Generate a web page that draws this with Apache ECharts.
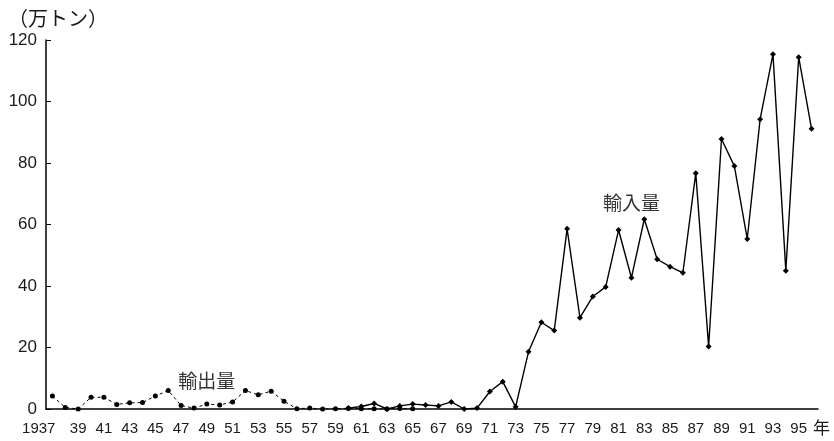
<html>
<head>
    <meta charset="utf-8">
    <script src="https://cdn.jsdelivr.net/npm/echarts@6/dist/echarts.min.js"></script>
</head>
<body style="margin:0">
<div id="main" style="width:834px;height:441px"></div>
<script>
    // years 1937 .. 1996
    var years = [];
    for (var y = 1937; y <= 1996; y++) {
        years.push(String(y));
    }

    // 輸出量 1937-1965 (万トン)
    var exportVals = [
        4.2, 0.5, 0.0, 3.8, 3.8, 1.5, 2.0, 2.1, 4.2, 6.0,
        1.1, 0.3, 1.6, 1.3, 2.3, 6.0, 4.6, 5.8, 2.5, 0.1,
        0.3, 0.0, 0.1, 0.2, 0.1, 0.1, 0.0, 0.2, 0.1
    ];

    // 輸入量 1960-1996 (万トン)
    var importVals = [
        0.3, 0.8, 1.8, 0.0, 1.0, 1.6, 1.3, 1.0, 2.3, 0.0,
        0.3, 5.7, 8.9, 0.7, 18.6, 28.2, 25.5, 58.6, 29.7, 36.6,
        39.7, 58.2, 42.7, 61.7, 48.7, 46.3, 44.3, 76.7, 20.3, 87.8,
        79.0, 55.3, 94.2, 115.4, 45.0, 114.4, 91.1
    ];

    function fill(startYear, vals) {
        return years.map(function (yr) {
            var i = Number(yr) - startYear;
            return (i >= 0 && i < vals.length) ? vals[i] : null;
        });
    }

    var textColor = '#1a1a1a';
    var numFont = '"Liberation Sans", Arial, sans-serif';
    var cjkFont = '"Noto Sans CJK JP", sans-serif';

    var chart = echarts.init(document.getElementById('main'));
    var option = {
        animation: false,
        title: {
            text: '（万トン）',
            left: 3,
            top: 3,
            textStyle: {
                fontFamily: cjkFont,
                fontSize: 20,
                fontWeight: 'normal',
                color: textColor
            }
        },
        grid: {
            left: 46,
            right: 16,
            top: 40,
            bottom: 32
        },
        xAxis: [
            {
                type: 'category',
                data: years,
                position: 'bottom',
                boundaryGap: true,
                name: '年',
                nameLocation: 'end',
                nameGap: -6,
                nameTextStyle: {
                    fontFamily: cjkFont,
                    fontSize: 17,
                    color: textColor,
                    align: 'left',
                    verticalAlign: 'top',
                    padding: [10, 0, 0, 0]
                },
                axisLine: { lineStyle: { color: '#000', width: 1.5 } },
                axisTick: {
                    inside: true,
                    interval: 0,
                    length: 4,
                    lineStyle: { color: '#000' }
                },
                axisLabel: {
                    interval: 0,
                    margin: 12,
                    hideOverlap: false,
                    fontFamily: numFont,
                    fontSize: 15,
                    color: textColor,
                    formatter: function (v, idx) {
                        // full year on first label is drawn by the overlay axis below
                        if (idx % 2 === 1 || idx === 0) {
                            return '';
                        }
                        return v.slice(2);
                    }
                },
                splitLine: { show: false }
            },
            {
                // overlay axis: only the first year, right-aligned under its point
                type: 'category',
                data: years,
                position: 'bottom',
                boundaryGap: true,
                axisLine: { show: false },
                axisTick: { show: false },
                axisLabel: {
                    interval: 0,
                    margin: 12,
                    align: 'right',
                    padding: [0, -3, 0, 0],
                    fontFamily: numFont,
                    fontSize: 15,
                    color: textColor,
                    formatter: function (v, idx) {
                        return idx === 0 ? v : '';
                    }
                },
                splitLine: { show: false }
            }
        ],
        yAxis: {
            type: 'value',
            min: 0,
            max: 120,
            interval: 20,
            axisLine: { show: true, lineStyle: { color: '#000', width: 1.5 } },
            axisTick: {
                show: true,
                inside: true,
                length: 5,
                lineStyle: { color: '#000' }
            },
            axisLabel: {
                margin: 9,
                fontFamily: numFont,
                fontSize: 17,
                color: textColor
            },
            splitLine: { show: false }
        },
        series: [
            {
                name: '輸出量',
                type: 'line',
                data: fill(1937, exportVals),
                symbol: 'circle',
                symbolSize: 5,
                itemStyle: { color: '#000' },
                lineStyle: { color: '#000', width: 1, type: [3, 3] },
                markPoint: {
                    symbol: 'circle',
                    symbolSize: 0,
                    label: {
                        show: true,
                        position: 'inside',
                        formatter: '輸出量',
                        fontFamily: cjkFont,
                        fontSize: 19,
                        color: '#333'
                    },
                    data: [{ coord: ['1949', 9.2] }]
                }
            },
            {
                name: '輸入量',
                type: 'line',
                data: fill(1960, importVals),
                symbol: 'diamond',
                symbolSize: 6,
                itemStyle: { color: '#000' },
                lineStyle: { color: '#000', width: 1.4 },
                markPoint: {
                    symbol: 'circle',
                    symbolSize: 0,
                    label: {
                        show: true,
                        position: 'inside',
                        formatter: '輸入量',
                        fontFamily: cjkFont,
                        fontSize: 19,
                        color: '#333'
                    },
                    data: [{ coord: ['1982', 67] }]
                }
            }
        ]
    };
    chart.setOption(option);
</script>
</body>
</html>
